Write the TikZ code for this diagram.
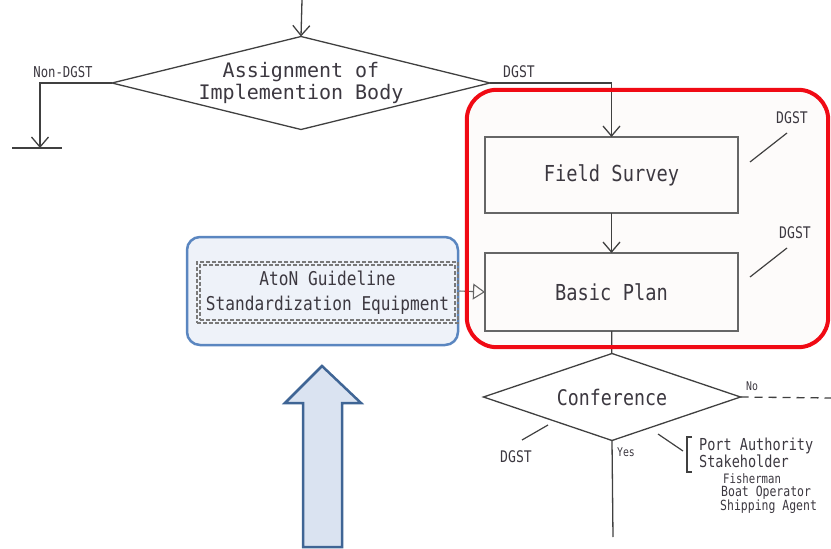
\documentclass[tikz,border=0pt]{standalone}
\usepackage{fontspec}
\usetikzlibrary{arrows.meta,shapes.geometric}
\newfontfamily\mono{DejaVu Sans Mono}
\newfontfamily\monom[FakeStretch=0.85]{DejaVu Sans Mono}
\newfontfamily\monon[FakeStretch=0.82]{DejaVu Sans Mono}
\definecolor{ln}{HTML}{404040}
\definecolor{tx}{HTML}{3C3840}
\definecolor{redb}{HTML}{F00A14}
\definecolor{redf}{HTML}{FDFBFA}
\definecolor{blueb}{HTML}{5A86C0}
\definecolor{bluef}{HTML}{EEF2F9}
\definecolor{arrb}{HTML}{3F6595}
\definecolor{arrf}{HTML}{DAE3F1}
\tikzset{
  flow/.style={draw=ln,line width=1.3pt},
  arr/.style={flow,-{Straight Barb[length=10pt,width=17pt,line width=1.3pt]}},
  decision/.style={diamond,draw=ln,line width=1.3pt,inner sep=0pt,outer sep=0pt,fill=white,text=tx,align=center,font=\mono\fontsize{20}{22}\selectfont},
  procbox/.style={rectangle,draw=ln!80,line width=1.5pt,inner sep=0pt,outer sep=0pt,text=tx,font=\monom\fontsize{22}{24}\selectfont},
  lbl/.style={text=tx,inner sep=0pt,font=\monon\fontsize{16}{17}\selectfont},
  smalllbl/.style={text=tx,inner sep=0pt,font=\monon\fontsize{12}{13}\selectfont},
  slash/.style={draw=ln,line width=1.2pt},
}
\begin{document}
\begin{tikzpicture}[x=1pt,y=-1pt]
\useasboundingbox (0,0) rectangle (831,549);
% red frame background
\node[fill=redf,rounded corners=30pt,minimum width=361pt,minimum height=257pt,inner sep=0pt] (redbox) at (647.5,218.5) {};
% decision 1
\node[decision,aspect=4.06,minimum width=378pt,minimum height=93pt] (d1) at (301,83) {Assignment of\\Implemention Body};
\coordinate (top) at (302,0);
\draw[arr] (top) -- (d1.north);
\coordinate (nd) at (40,148);
\coordinate (ndl) at (12,148);
\coordinate (ndr) at (62,148);
\draw[arr] (d1.west) -| (nd);
\draw[flow] (ndl) -- (ndr);
\node[lbl,font=\monon\fontsize{15}{16}\selectfont] (nondgst) at (63,72) {Non-DGST};
% boxes
\node[procbox,minimum width=253pt,minimum height=76pt] (fs) at (611.5,175) {Field Survey};
\node[procbox,minimum width=253pt,minimum height=78pt] (bp) at (611.5,292) {Basic Plan};
\draw[arr] (d1.east) -| (fs.north);
\node[lbl] (dgst1) at (519,72) {DGST};
\draw[arr] (fs) -- (bp);
% DGST slashes
\coordinate (s1a) at (750,162); \coordinate (s1b) at (787,133);
\draw[slash] (s1a) -- (s1b);
\node[lbl] (dgst2) at (792,118) {DGST};
\coordinate (s2a) at (750,277); \coordinate (s2b) at (787,248);
\draw[slash] (s2a) -- (s2b);
\node[lbl] (dgst3) at (795,233) {DGST};
% conference
\node[decision,aspect=2.95,minimum width=257pt,minimum height=87pt,font=\monom\fontsize{21.5}{24}\selectfont] (conf) at (612,397) {Conference};
\draw[flow] (bp) -- (conf);
\coordinate (noend) at (831,398);
\draw[flow,dashed,dash pattern=on 8pt off 6pt] (conf.east) -- (noend);
\node[smalllbl] (no) at (752,386) {No};
\coordinate (yesend) at (613,537);
\draw[flow] (conf.south) -- (yesend);
\node[smalllbl] (yes) at (626,452) {Yes};
\coordinate (s3a) at (522,440); \coordinate (s3b) at (548,425);
\draw[slash] (s3a) -- (s3b);
\node[lbl] (dgst4) at (516,457) {DGST};
\coordinate (s4a) at (658,434); \coordinate (s4b) at (683,451);
\draw[slash] (s4a) -- (s4b);
\coordinate (brt) at (692,437); \coordinate (brb) at (692,472);
\draw[slash] (brt) -- ++(-5,0) -- ++(0,35) -- (brb);
\node[lbl,anchor=west,font=\monon\fontsize{16.5}{17}\selectfont] (pa) at (699,446) {Port Authority};
\node[lbl,anchor=west,font=\monon\fontsize{16.5}{17}\selectfont] (sh) at (699,461) {Stakeholder};
\node[lbl,anchor=west,font=\monon\fontsize{13}{14}\selectfont] (fi) at (723,478.5) {Fisherman};
\node[lbl,anchor=west,font=\monon\fontsize{14}{15}\selectfont] (bo) at (721,492.5) {Boat Operator};
\node[lbl,anchor=west,font=\monon\fontsize{14}{15}\selectfont] (sa) at (720,507) {Shipping Agent};
% blue box
\node[draw=blueb,fill=bluef,line width=2.5pt,rounded corners=13pt,minimum width=271pt,minimum height=108pt,inner sep=0pt] (blue) at (322.5,291) {};
\node[draw=ln!70,dashed,line width=1.1pt,dash pattern=on 4pt off 2pt,minimum width=261pt,minimum height=61pt,inner sep=0pt] (inner) at (327.5,292.5) {};
\node[draw=ln!70,dashed,line width=1.1pt,dash pattern=on 4pt off 2pt,minimum width=255pt,minimum height=55pt,inner sep=0pt,align=center,text=tx,font=\monom\fontsize{19}{25}\selectfont] (innertxt) at (327.5,292.5) {AtoN Guideline\\Standardization Equipment};
\draw[draw=ln!80,line width=1.1pt,-{Triangle[open,length=12pt,width=16pt,line width=1.1pt]}] (blue.east) -- (bp.west);
% red frame border
\draw[redb,line width=4pt,rounded corners=30pt] (redbox.north west) rectangle (redbox.south east);
% big up arrow
\draw[arrb,fill=arrf,line width=2.5pt,line join=miter] (322,366) -- (361,403) -- (342,403) -- (342,547) -- (303,547) -- (303,403) -- (285,403) -- cycle;
\end{tikzpicture}
\end{document}
